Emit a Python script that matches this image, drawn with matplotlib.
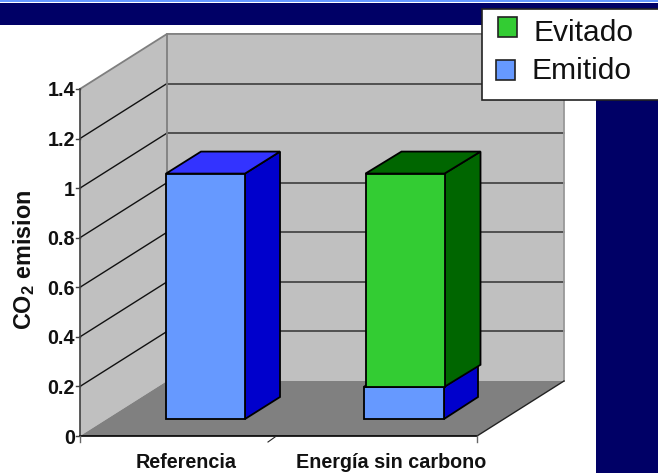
import matplotlib.pyplot as plt
from matplotlib.patches import Polygon, Rectangle

plt.rcParams['font.family'] = ['Liberation Sans', 'DejaVu Sans']
plt.rcParams['mathtext.fontset'] = 'custom'
plt.rcParams['mathtext.rm'] = 'Liberation Sans:bold'
plt.rcParams['mathtext.bf'] = 'Liberation Sans:bold'

categories = ['Referencia', 'Energía sin carbono']
emitido = [0.99, 0.13]
evitado = [0.0, 0.86]
y_ticks = [0, 0.2, 0.4, 0.6, 0.8, 1, 1.2, 1.4]
legend_labels = ['Evitado', 'Emitido']

NAVY = '#000066'
WALL = '#C0C0C0'
FLOOR = '#808080'
BLUE = ('#6699FF', '#3333FF', '#0000CC')
GREEN = ('#33CC33', '#006600', '#006600')

# fake 3D box, everything in figure pixels
X0, X1 = 80, 477
Y0 = 436
UNIT = 247.9
DX, DY = 87, -55
BAR_BASE = 419
BAR_W = 79
BAR_LEFT = [166, 364]
BAR_DX, BAR_DY = 35, -22


def yval(v):
    return Y0 - v * UNIT


def box(ax, x, y_bot, y_top, w, colors, dx=BAR_DX, dy=BAR_DY, z=5):
    kw = dict(edgecolor='black', linewidth=1.3, joinstyle='miter', zorder=z)
    ax.add_patch(Polygon([(x + w, y_bot), (x + w + dx, y_bot + dy),
                          (x + w + dx, y_top + dy), (x + w, y_top)], facecolor=colors[2], **kw))
    ax.add_patch(Polygon([(x, y_top), (x + w, y_top),
                          (x + w + dx, y_top + dy), (x + dx, y_top + dy)], facecolor=colors[1], **kw))
    ax.add_patch(Rectangle((x, y_top), w, y_bot - y_top, facecolor=colors[0], **kw))


fig = plt.figure(figsize=(6.58, 4.73), dpi=100)
ax = fig.add_axes([0, 0, 1, 1])
ax.set_xlim(0, 658)
ax.set_ylim(473, 0)
ax.axis('off')

# slide background
ax.add_patch(Rectangle((0, 0), 658, 2.2, facecolor=BLUE[0], edgecolor='none'))
ax.add_patch(Rectangle((0, 3), 658, 22, facecolor=NAVY, edgecolor='none'))
ax.add_patch(Rectangle((596, 25), 62, 448, facecolor=NAVY, edgecolor='none'))

# walls and floor
top = yval(y_ticks[-1])
ax.add_patch(Polygon([(X0, Y0), (X0 + DX, Y0 + DY), (X0 + DX, top + DY), (X0, top)],
                     facecolor=WALL, edgecolor='none'))
ax.add_patch(Rectangle((X0 + DX, top + DY), X1 - X0, Y0 - top, facecolor=WALL, edgecolor='none'))
ax.add_patch(Polygon([(X0, Y0), (X1, Y0), (X1 + DX, Y0 + DY), (X0 + DX, Y0 + DY)],
                     facecolor=FLOOR, edgecolor='none'))

# gridlines, side wall then back wall
for v in y_ticks[1:-1]:
    y = yval(v)
    ax.plot([X0, X0 + DX], [y, y + DY], color='#111111', lw=1.0)
    ax.plot([X0 + DX, X1 + DX], [y + DY, y + DY], color='#333333', lw=1.1)
ax.plot([X0, X0 + DX, X1 + DX], [top, top + DY, top + DY], color='#7f7f7f', lw=1.3)
ax.plot([X0 + DX, X0 + DX], [top + DY, Y0 + DY], color='#7f7f7f', lw=1.3)
ax.plot([X1 + DX, X1 + DX], [top + DY, Y0 + DY], color='#999999', lw=1.3)

# axis lines, ticks, labels
ax.plot([X0, X0], [top, Y0], color='#404040', lw=1.2)
ax.plot([X0, X1], [Y0, Y0], color='black', lw=1.2)
ax.plot([X1, X1 + DX], [Y0, Y0 + DY], color='#222222', lw=1.0)
for v in y_ticks:
    y = yval(v)
    ax.plot([X0 - 4, X0], [y, y], color='#404040', lw=1.0)
    ax.text(X0 - 5, y + 2, f'{v:g}', ha='right', va='center', fontsize=14.2,
            fontweight='bold', color='#111111')
ax.plot([X0, X0], [Y0, Y0 + 6], color='#666666', lw=1.0)
ax.plot([X1, X1], [Y0, Y0 + 6], color='#666666', lw=1.0)
ax.plot([268, 275], [442, 437], color='#222222', lw=0.8)

ax.text(186, 462, categories[0], ha='center', va='center', fontsize=14.2,
        fontweight='bold', color='#111111')
ax.text(391, 462, categories[1], ha='center', va='center', fontsize=14.2,
        fontweight='bold', color='#111111')
ax.text(24, 260, r'CO$_{\mathregular{2}}$ emision', rotation=90, ha='center', va='center',
        fontsize=16.8, fontweight='bold', color='#111111')

# stacked bars
for i, x in enumerate(BAR_LEFT):
    y_low = BAR_BASE - emitido[i] * UNIT
    box(ax, x, BAR_BASE, y_low, BAR_W + 1 - (i == 0), BLUE, dx=34 if i else BAR_DX)
    if evitado[i] > 0:
        box(ax, x + 1.5, y_low, y_low - evitado[i] * UNIT, BAR_W, GREEN, dx=36, z=6)

# legend box
ax.add_patch(Rectangle((482, 9), 180, 91, facecolor='white', edgecolor='#222222', lw=1.2, zorder=8))
ax.add_patch(Rectangle((498, 17), 19, 20, facecolor=GREEN[0], edgecolor='#222222', lw=1.2, zorder=9))
ax.add_patch(Rectangle((496, 60), 19, 20, facecolor=BLUE[0], edgecolor='#222222', lw=1.2, zorder=9))
ax.text(534, 41, legend_labels[0], ha='left', va='baseline', fontsize=21.6, color='#111111', zorder=9)
ax.text(532, 79, legend_labels[1], ha='left', va='baseline', fontsize=21.6, color='#111111', zorder=9)

fig.savefig('out.png', dpi=100)
